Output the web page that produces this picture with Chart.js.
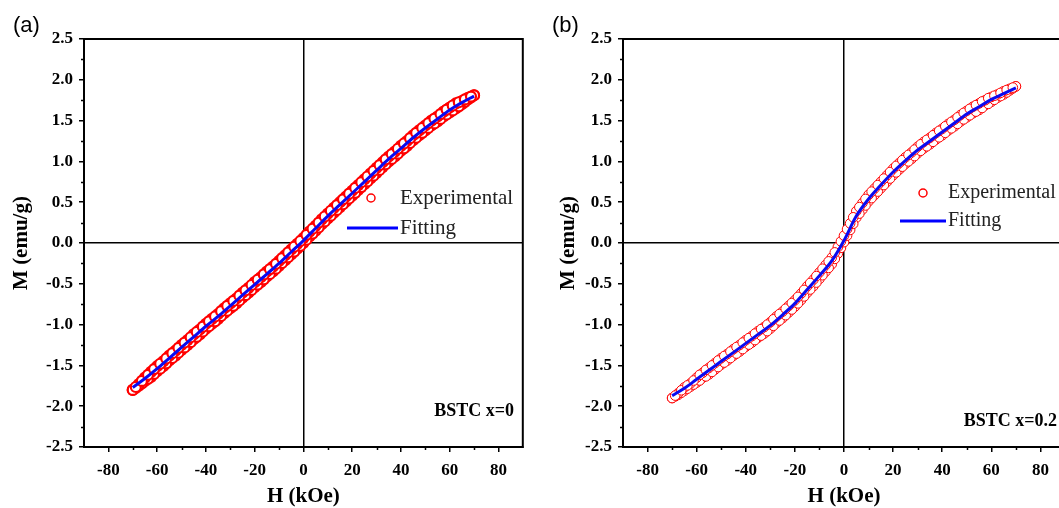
<!DOCTYPE html>
<html>
<head>
<meta charset="utf-8">
<script src="https://cdn.jsdelivr.net/npm/chart.js@4.4.1/dist/chart.umd.min.js"></script>
<style>
  html, body { margin: 0; padding: 0; background: #fff; overflow: hidden; }
  #wrap { position: relative; width: 1059px; height: 508px; overflow: hidden; }
  #chartA { position: absolute; left: 0; top: 0; }
  #chartB { position: absolute; left: 545px; top: 0; }
</style>
</head>
<body>
<div id="wrap">
  <canvas id="chartA" width="530" height="508"></canvas>
  <canvas id="chartB" width="530" height="508"></canvas>
</div>
<script>
// H (kOe) of the measured points, panel (a): main grid and the in-between readings
var hA = [-70, -67.5, -65, -62.5, -60, -57.5, -55, -52.5, -50, -47.5, -45, -42.5, -40, -37.5, -35, -32.5, -30, -27.5, -25, -22.5, -20, -17.5, -15, -12.5, -10, -7.5, -5, -2.5,
  0, 2.5, 5, 7.5, 10, 12.5, 15, 17.5, 20, 22.5, 25, 27.5, 30, 32.5, 35, 37.5, 40, 42.5, 45, 47.5, 50, 52.5, 55, 57.5, 60, 62.5, 65, 67.5, 70];
var hA_mid = [-68.75, -66.25, -63.75, -61.25, -58.75, -56.25, -53.75, -51.25, -48.75, -46.25, -43.75, -41.25, -38.75, -36.25, -33.75, -31.25, -28.75, -26.25, -23.75, -21.25, -18.75, -16.25, -13.75, -11.25, -8.75, -6.25, -3.75, -1.25,
  1.25, 3.75, 6.25, 8.75, 11.25, 13.75, 16.25, 18.75, 21.25, 23.75, 26.25, 28.75, 31.25, 33.75, 36.25, 38.75, 41.25, 43.75, 46.25, 48.75, 51.25, 53.75, 56.25, 58.75, 61.25, 63.75, 66.25, 68.75];
// M (emu/g), BSTC x=0: descending branch (upper) and ascending branch (lower)
var mA_down = [-1.80, -1.73, -1.65, -1.58, -1.51, -1.45, -1.38, -1.32, -1.25, -1.19, -1.12, -1.06, -0.99, -0.93, -0.87, -0.80, -0.74, -0.68, -0.61, -0.55, -0.48, -0.42, -0.35, -0.29, -0.22, -0.15, -0.08, -0.01,
  0.06, 0.14, 0.21, 0.29, 0.36, 0.43, 0.50, 0.57, 0.64, 0.71, 0.78, 0.85, 0.92, 0.99, 1.06, 1.12, 1.19, 1.25, 1.32, 1.38, 1.44, 1.50, 1.55, 1.61, 1.66, 1.71, 1.74, 1.78, 1.81];
var mA_up = [-1.80, -1.75, -1.69, -1.64, -1.57, -1.51, -1.44, -1.38, -1.31, -1.25, -1.18, -1.12, -1.05, -0.99, -0.93, -0.86, -0.80, -0.74, -0.67, -0.61, -0.54, -0.48, -0.41, -0.35, -0.28, -0.21, -0.14, -0.07,
  0.00, 0.08, 0.15, 0.23, 0.30, 0.37, 0.44, 0.51, 0.58, 0.65, 0.72, 0.79, 0.86, 0.93, 1.00, 1.06, 1.13, 1.19, 1.26, 1.32, 1.38, 1.44, 1.49, 1.55, 1.60, 1.65, 1.70, 1.76, 1.81];
var mA_down_mid = [-1.765, -1.69, -1.615, -1.545, -1.48, -1.415, -1.35, -1.285, -1.22, -1.155, -1.09, -1.025, -0.96, -0.90, -0.835, -0.77, -0.71, -0.645, -0.58, -0.515, -0.45, -0.385, -0.32, -0.255, -0.185, -0.115, -0.045, 0.025,
  0.10, 0.175, 0.25, 0.325, 0.395, 0.465, 0.535, 0.605, 0.675, 0.745, 0.815, 0.885, 0.955, 1.025, 1.09, 1.155, 1.22, 1.285, 1.35, 1.41, 1.47, 1.525, 1.58, 1.635, 1.685, 1.725, 1.76, 1.795];
var mA_up_mid = [-1.775, -1.72, -1.665, -1.605, -1.54, -1.475, -1.41, -1.345, -1.28, -1.215, -1.15, -1.085, -1.02, -0.96, -0.895, -0.83, -0.77, -0.705, -0.64, -0.575, -0.51, -0.445, -0.38, -0.315, -0.245, -0.175, -0.105, -0.035,
  0.04, 0.115, 0.19, 0.265, 0.335, 0.405, 0.475, 0.545, 0.615, 0.685, 0.755, 0.825, 0.895, 0.965, 1.03, 1.095, 1.16, 1.225, 1.29, 1.35, 1.41, 1.465, 1.52, 1.575, 1.625, 1.675, 1.73, 1.785];

// H of the measured points, panel (b) (denser around zero)
var hB = [-70, -67.5, -65, -62.5, -60, -57.5, -55, -52.5, -50, -47.5, -45, -42.5, -40, -37.5, -35, -32.5, -30, -27.5, -25, -22.5, -20, -17.5, -15, -12.5, -10, -7.5, -5, -2.5,
  -1.25, 0, 1.25,
  2.5, 5, 7.5, 10, 12.5, 15, 17.5, 20, 22.5, 25, 27.5, 30, 32.5, 35, 37.5, 40, 42.5, 45, 47.5, 50, 52.5, 55, 57.5, 60, 62.5, 65, 67.5, 70];
var hB_mid = [-68.75, -66.25, -63.75, -61.25, -58.75, -56.25, -53.75, -51.25, -48.75, -46.25, -43.75, -41.25, -38.75, -36.25, -33.75, -31.25, -28.75, -26.25, -23.75, -21.25, -18.75, -16.25, -13.75, -11.25, -8.75, -6.25, -3.75,
  3.75, 6.25, 8.75, 11.25, 13.75, 16.25, 18.75, 21.25, 23.75, 26.25, 28.75, 31.25, 33.75, 36.25, 38.75, 41.25, 43.75, 46.25, 48.75, 51.25, 53.75, 56.25, 58.75, 61.25, 63.75, 66.25, 68.75];
// M (emu/g), BSTC x=0.2
var mB_down = [-1.90, -1.84, -1.77, -1.72, -1.65, -1.59, -1.53, -1.47, -1.41, -1.36, -1.30, -1.25, -1.19, -1.14, -1.08, -1.03, -0.97, -0.90, -0.84, -0.77, -0.70, -0.62, -0.53, -0.45, -0.36, -0.27, -0.18, -0.05,
  0.02, 0.09, 0.17,
  0.24, 0.39, 0.49, 0.59, 0.67, 0.75, 0.83, 0.91, 0.98, 1.05, 1.11, 1.18, 1.24, 1.29, 1.35, 1.40, 1.46, 1.51, 1.57, 1.62, 1.67, 1.71, 1.75, 1.79, 1.82, 1.86, 1.89, 1.92];
var mB_up = [-1.90, -1.86, -1.81, -1.76, -1.71, -1.65, -1.61, -1.55, -1.49, -1.44, -1.38, -1.33, -1.27, -1.22, -1.16, -1.11, -1.05, -0.98, -0.92, -0.85, -0.78, -0.70, -0.61, -0.53, -0.44, -0.35, -0.26, -0.13,
  -0.06, 0.01, 0.09,
  0.16, 0.31, 0.41, 0.51, 0.59, 0.67, 0.75, 0.83, 0.90, 0.97, 1.03, 1.10, 1.16, 1.21, 1.27, 1.32, 1.38, 1.43, 1.49, 1.54, 1.59, 1.63, 1.69, 1.73, 1.78, 1.82, 1.87, 1.92];
var mB_down_mid = [-1.87, -1.805, -1.745, -1.685, -1.615, -1.555, -1.50, -1.44, -1.385, -1.33, -1.275, -1.22, -1.165, -1.11, -1.055, -1.00, -0.935, -0.87, -0.805, -0.735, -0.66, -0.575, -0.49, -0.405, -0.315, -0.225, -0.115,
  0.315, 0.44, 0.54, 0.63, 0.71, 0.79, 0.87, 0.945, 1.015, 1.08, 1.145, 1.21, 1.265, 1.32, 1.375, 1.43, 1.485, 1.54, 1.595, 1.645, 1.69, 1.735, 1.775, 1.805, 1.84, 1.875, 1.905];
var mB_up_mid = [-1.88, -1.835, -1.785, -1.735, -1.685, -1.635, -1.58, -1.52, -1.465, -1.41, -1.355, -1.30, -1.245, -1.19, -1.135, -1.08, -1.015, -0.95, -0.885, -0.815, -0.74, -0.655, -0.57, -0.485, -0.395, -0.305, -0.195,
  0.235, 0.36, 0.46, 0.55, 0.63, 0.71, 0.79, 0.865, 0.935, 1.00, 1.065, 1.13, 1.185, 1.24, 1.295, 1.35, 1.405, 1.46, 1.515, 1.565, 1.61, 1.655, 1.705, 1.755, 1.80, 1.845, 1.895];

// fitted curves
var hFit = [-70, -65, -60, -55, -50, -45, -40, -35, -30, -25, -20, -15, -10, -5, 0, 5, 10, 15, 20, 25, 30, 35, 40, 45, 50, 55, 60, 65, 70];
var fitA = [-1.77, -1.66, -1.54, -1.41, -1.28, -1.15, -1.02, -0.90, -0.77, -0.64, -0.51, -0.38, -0.25, -0.11, 0.03, 0.18, 0.33, 0.47, 0.61, 0.75, 0.89, 1.03, 1.16, 1.29, 1.41, 1.52, 1.63, 1.72, 1.80];
var fitB = [-1.87, -1.78, -1.67, -1.56, -1.45, -1.34, -1.23, -1.12, -1.01, -0.88, -0.74, -0.57, -0.40, -0.22, 0.03, 0.33, 0.54, 0.71, 0.87, 1.01, 1.14, 1.25, 1.36, 1.47, 1.58, 1.67, 1.76, 1.83, 1.90];

var hRange = [-90, 90];
var mRange = [-2.5, 2.5];

Chart.defaults.color = '#000';
Chart.defaults.font.family = '"Liberation Serif", "Times New Roman", serif';

function pts(xs, ys) {
  return xs.map(function(x, i) { return { x: x, y: ys[i] }; });
}

function zeroLine(c) {
  return c.tick && Math.abs(c.tick.value) < 1e-9 ? '#000' : 'rgba(0,0,0,0)';
}

var framePlugin = {
  id: 'frame',
  afterDraw: function(chart, args, o) {
    var ctx = chart.ctx, a = chart.chartArea;
    var xs = chart.scales.x, ys = chart.scales.y;
    ctx.save();
    ctx.strokeStyle = '#000';
    ctx.lineWidth = 2;
    ctx.strokeRect(a.left, a.top, a.right - a.left, a.bottom - a.top);

    // minor ticks halfway between the major ones
    ctx.lineWidth = 1.5;
    ctx.beginPath();
    var i, v, p;
    for (i = 0; i < xs.ticks.length - 1; i++) {
      v = (xs.ticks[i].value + xs.ticks[i + 1].value) / 2;
      p = Math.round(xs.getPixelForValue(v)) + 0.5;
      ctx.moveTo(p, a.bottom); ctx.lineTo(p, a.bottom + 3);
    }
    for (i = 0; i < ys.ticks.length - 1; i++) {
      v = (ys.ticks[i].value + ys.ticks[i + 1].value) / 2;
      p = Math.round(ys.getPixelForValue(v)) + 0.5;
      ctx.moveTo(a.left, p); ctx.lineTo(a.left - 3, p);
    }
    ctx.stroke();

    // panel letter
    ctx.fillStyle = '#000';
    ctx.textBaseline = 'middle';
    ctx.textAlign = 'left';
    ctx.font = '22px "Liberation Sans", Arial, sans-serif';
    ctx.fillText(o.panel, o.panelX, 26);

    // legend
    ctx.font = o.legSize + 'px "Liberation Serif", serif';
    ctx.beginPath();
    ctx.arc(o.legX, o.legY, 4, 0, Math.PI * 2);
    ctx.fillStyle = '#fff';
    ctx.fill();
    ctx.strokeStyle = '#ff0000';
    ctx.lineWidth = 1.5;
    ctx.stroke();
    ctx.fillStyle = '#222';
    ctx.fillText('Experimental', o.legTextX, o.legY);
    ctx.beginPath();
    ctx.moveTo(o.lineX0, o.legY2); ctx.lineTo(o.lineX1, o.legY2);
    ctx.strokeStyle = '#0000ff';
    ctx.lineWidth = 3;
    ctx.stroke();
    ctx.fillText('Fitting', o.legTextX, o.legY2);

    // sample note
    ctx.fillStyle = '#000';
    ctx.textAlign = 'right';
    ctx.font = 'bold 18px "Liberation Serif", serif';
    ctx.fillText(o.note, o.noteX, o.noteY);
    ctx.restore();
  }
};

function expSet(data, r, w, order) {
  return { label: 'Experimental', data: data, pointRadius: r, pointBorderWidth: w,
    pointBorderColor: '#ff0000', pointBackgroundColor: '#fff', order: order };
}

function makeChart(id, sets, fit, yAxisW, yTitlePad, rightPad, markerR, markerW, frameOpts) {
  var ctx = document.getElementById(id).getContext('2d');
  return new Chart(ctx, {
    type: 'scatter',
    data: {
      datasets: [
        { label: 'Fitting', data: pts(hFit, fit), showLine: true, borderColor: '#0a0af0', borderWidth: 3,
          pointRadius: 0, cubicInterpolationMode: 'monotone', order: 0 },
        expSet(sets[0], markerR, markerW, 1),
        expSet(sets[1], markerR, markerW, 2)
      ]
    },
    options: {
      responsive: false,
      animation: false,
      layout: { padding: { left: 0, top: 39, right: rightPad, bottom: 0 } },
      plugins: { legend: { display: false }, tooltip: { enabled: false }, frame: frameOpts },
      scales: {
        x: {
          type: 'linear', min: hRange[0], max: hRange[1],
          afterBuildTicks: function(s) { s.ticks = s.ticks.filter(function(t) { return Math.abs(t.value % 20) < 1e-9; }); },
          afterFit: function(s) { s.height = 61; },
          ticks: { stepSize: 10, padding: 8, maxRotation: 0, autoSkip: false,
            font: { size: 17, weight: 'bold' }, callback: function(v) { return v; } },
          grid: { color: zeroLine, lineWidth: 1.5, tickColor: '#000', tickWidth: 1.5, tickLength: 5 },
          border: { color: '#000', width: 2 },
          title: { display: true, text: 'H (kOe)', padding: { top: 0, bottom: 0 },
            font: { size: 21, weight: 'bold', lineHeight: 1.1 } }
        },
        y: {
          type: 'linear', min: mRange[0], max: mRange[1],
          afterFit: function(s) { s.width = yAxisW; },
          ticks: { stepSize: 0.5, padding: 6, autoSkip: false,
            font: { size: 17, weight: 'bold' }, callback: function(v) { return Number(v).toFixed(1); } },
          grid: { color: zeroLine, lineWidth: 1.5, tickColor: '#000', tickWidth: 1.5, tickLength: 5 },
          border: { color: '#000', width: 2 },
          title: { display: true, text: 'M (emu/g)', padding: { top: yTitlePad, bottom: 0 },
            font: { size: 21, weight: 'bold', lineHeight: 1.1 } }
        }
      }
    },
    plugins: [framePlugin]
  });
}

makeChart('chartA',
  [pts(hA, mA_down).concat(pts(hA_mid, mA_down_mid)), pts(hA, mA_up).concat(pts(hA_mid, mA_up_mid))],
  fitA, 84, 10, 7, 5, 2.2, {
    panel: '(a)', panelX: 13, legSize: 21,
    legX: 371, legY: 198, legTextX: 400, lineX0: 347, lineX1: 398, legY2: 228,
    note: 'BSTC x=0', noteX: 514, noteY: 411
  });
makeChart('chartB',
  [pts(hB, mB_down).concat(pts(hB_mid, mB_down_mid)), pts(hB, mB_up).concat(pts(hB_mid, mB_up_mid))],
  fitB, 78, 12, 10, 4.8, 1, {
    panel: '(b)', panelX: 7, legSize: 20,
    legX: 378, legY: 193, legTextX: 403, lineX0: 355, lineX1: 401, legY2: 221,
    note: 'BSTC x=0.2', noteX: 512, noteY: 421
  });
</script>
</body>
</html>
